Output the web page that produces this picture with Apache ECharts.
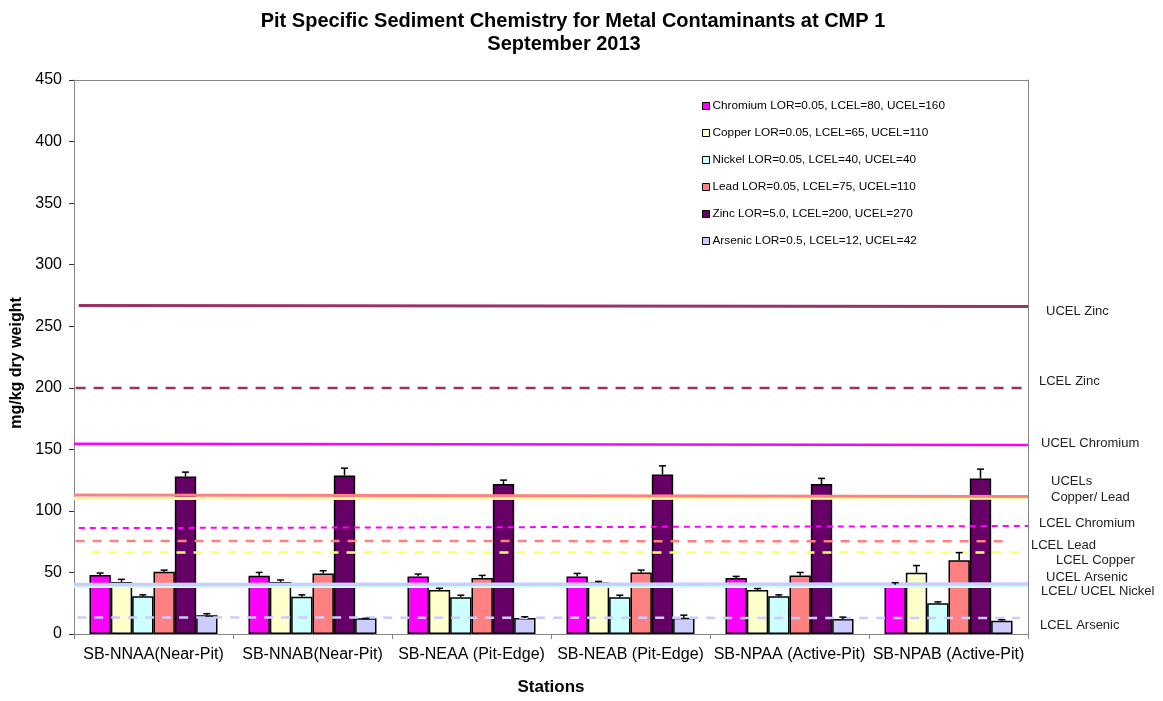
<!DOCTYPE html>
<html>
<head>
<meta charset="utf-8">
<script src="https://cdn.jsdelivr.net/npm/echarts@6/dist/echarts.min.js"></script>
<style>
html,body{margin:0;padding:0;background:#fff;}
#chart{width:1163px;height:701px;}
</style>
</head>
<body>
<div id="chart"></div>
<script>
// ---- data ----
var stations = ['SB-NNAA(Near-Pit)', 'SB-NNAB(Near-Pit)', 'SB-NEAA (Pit-Edge)', 'SB-NEAB (Pit-Edge)', 'SB-NPAA (Active-Pit)', 'SB-NPAB (Active-Pit)'];
var metalNames = ['Chromium LOR=0.05, LCEL=80, UCEL=160', 'Copper LOR=0.05, LCEL=65, UCEL=110', 'Nickel LOR=0.05, LCEL=40, UCEL=40', 'Lead LOR=0.05, LCEL=75, UCEL=110', 'Zinc LOR=5.0, LCEL=200, UCEL=270', 'Arsenic LOR=0.5, LCEL=12, UCEL=42'];
var chromium = [47.9, 47.3, 46.8, 46.8, 45.5, 40.0];
var copper   = [42.3, 42.3, 35.8, 41.9, 35.8, 49.8];
var nickel   = [30.6, 30.2, 29.8, 29.8, 30.6, 25.0];
var lead     = [50.6, 49.2, 45.5, 50.0, 47.6, 60.0];
var zinc     = [128.0, 128.8, 121.8, 129.6, 121.8, 126.4];
var arsenic  = [15.3, 12.7, 12.9, 13.2, 12.1, 10.8];
var chromiumErr = [1.6, 2.7, 1.9, 2.4, 1.3, 1.7];
var copperErr   = [2.1, 1.6, 1.3, 0.8, 1.1, 5.8];
var nickelErr   = [1.2, 1.6, 1.7, 1.7, 1.2, 1.1];
var leadErr     = [1.3, 2.2, 2.1, 1.9, 2.4, 6.1];
var zincErr     = [3.5, 5.9, 3.2, 7.0, 4.6, 7.5];
var arsenicErr  = [1.2, 0.0, 1.1, 2.1, 1.6, 0.8];
// threshold guide lines: [xStart, xEnd] (station units 0..6) and [valueStart, valueEnd]
var guideNames = ['LCEL Nickel', 'UCEL Arsenic', 'LCEL Arsenic', 'LCEL Copper', 'LCEL Lead', 'LCEL Chromium', 'UCEL Copper', 'UCEL Lead', 'UCEL Chromium', 'LCEL Zinc', 'UCEL Zinc'];
var guideX = [[0, 6], [0, 6], [0.02, 5.95], [0.11, 5.95], [0.01, 5.86], [0.03, 6], [0, 6], [0, 6], [0, 6], [0.01, 5.96], [0.03, 6]];
var guideY = [[39.0, 39.0], [40.3, 40.6], [13.5, 12.9], [66.1, 66.1], [75.6, 75.3], [86.0, 87.7], [110.0, 110.2], [112.9, 111.6], [154.6, 153.5], [199.8, 199.8], [266.9, 266.1]];
var yTicks = {min: 0, max: 450, interval: 50};
var titleLines = ['Pit Specific Sediment Chemistry for Metal Contaminants at CMP 1', 'September 2013'];
var rightLabels = ['UCEL Zinc', 'LCEL Zinc', 'UCEL Chromium', 'UCELs', 'Copper/ Lead', 'LCEL Chromium', 'LCEL Lead', 'LCEL Copper', 'UCEL Arsenic', 'LCEL/ UCEL Nickel', 'LCEL Arsenic'];

// ---- styles ----
var FONT = '"Liberation Sans", Arial, sans-serif';
var barColors = ['#FF00FF', '#FFFFCC', '#CCFFFF', '#FF8080', '#660066', '#CCCCFF'];
var guideStyles = [
  {color: '#CCFFFF', width: 4, type: 'solid'},
  {color: '#CCCCFF', width: 3.5, type: 'solid'},
  {color: '#CCCCFF', width: 2.5, type: [9, 8]},
  {color: '#FFFF66', width: 2.5, type: [9, 8]},
  {color: '#FF8080', width: 2.5, type: [9, 8]},
  {color: '#FF00FF', width: 2, type: [6, 5]},
  {color: '#FFFF99', width: 3, type: 'solid'},
  {color: '#FF8080', width: 3, type: 'solid'},
  {color: '#FF00FF', width: 2.5, type: 'solid'},
  {color: '#993366', width: 2.5, type: [10, 8]},
  {color: '#993366', width: 3, type: 'solid'}
];
var labelPos = [[1046, 313], [1039, 383], [1041, 445], [1051, 483], [1051, 499], [1039, 525], [1031, 547], [1056, 562], [1046, 579], [1041, 593], [1040, 627]];

var values = [chromium, copper, nickel, lead, zinc, arsenic];
var errs = [chromiumErr, copperErr, nickelErr, leadErr, zincErr, arsenicErr];
var CAT_GAP = 0.195;

var series = [];
values.forEach(function (vals, k) {
  series.push({
    name: metalNames[k], type: 'bar', xAxisIndex: 0, yAxisIndex: 0,
    data: vals, barGap: '0%', barCategoryGap: (CAT_GAP * 100) + '%',
    itemStyle: {color: barColors[k], borderColor: '#000', borderWidth: 1.5},
    z: 2, silent: true
  });
});
values.forEach(function (vals, k) {
  series.push({
    name: 'err' + k, type: 'custom', xAxisIndex: 0, yAxisIndex: 0, z: 6, silent: true,
    data: vals.map(function (v, i) { return [i, v, errs[k][i]]; }),
    renderItem: function (params, api) {
      var i = api.value(0), v = api.value(1), e = api.value(2);
      var base = api.coord([i, v]);
      var top = api.coord([i, v + e]);
      var band = api.size([1, 0])[0];
      var bw = band * (1 - CAT_GAP) / 6;
      var cx = base[0] + (k - 2.5) * bw;
      var st = {stroke: '#000', lineWidth: 1.5};
      return {type: 'group', children: [
        {type: 'line', shape: {x1: cx, y1: base[1], x2: cx, y2: top[1]}, style: st},
        {type: 'line', shape: {x1: cx - 3.5, y1: top[1], x2: cx + 3.5, y2: top[1]}, style: st}
      ]};
    }
  });
});
guideNames.forEach(function (nm, j) {
  series.push({
    name: nm, type: 'line', xAxisIndex: 1, yAxisIndex: 0, symbol: 'none', silent: true, z: 5,
    data: [[guideX[j][0], guideY[j][0]], [guideX[j][1], guideY[j][1]]],
    lineStyle: guideStyles[j]
  });
});

var graphics = rightLabels.map(function (t, j) {
  return {type: 'text', left: labelPos[j][0], top: labelPos[j][1] - 8,
    style: {text: t, font: '13px ' + FONT, fill: '#222'}};
});

var titleStyle = {fontFamily: FONT, fontSize: 20, fontWeight: 'bold', color: '#000', lineHeight: 24};

var chart = echarts.init(document.getElementById('chart'));
chart.setOption({
  backgroundColor: '#fff',
  animation: false,
  title: [
    {text: titleLines[0], left: 573, textAlign: 'center', top: 9, padding: 0, textStyle: titleStyle},
    {text: titleLines[1], left: 564, textAlign: 'center', top: 32, padding: 0, textStyle: titleStyle}
  ],
  legend: {
    data: metalNames, orient: 'vertical', left: 697, top: 94,
    itemWidth: 7, itemHeight: 7, itemGap: 13, icon: 'rect',
    itemStyle: {borderColor: '#000', borderWidth: 1},
    textStyle: {fontFamily: FONT, fontSize: 11.8, color: '#000', lineHeight: 14, padding: [0, 0, 0, -2]},
    selectedMode: false
  },
  grid: {left: 74, right: 135, top: 80, bottom: 61, containLabel: false},
  xAxis: [
    {type: 'category', data: stations, position: 'bottom',
     axisLine: {lineStyle: {color: '#868686', width: 1}},
     axisTick: {show: true, alignWithLabel: false, length: 5, lineStyle: {color: '#868686'}},
     axisLabel: {fontFamily: FONT, fontSize: 16, color: '#000', margin: 13, interval: 0},
     name: 'Stations', nameLocation: 'middle', nameGap: 45,
     nameTextStyle: {fontFamily: FONT, fontSize: 17, fontWeight: 'bold', color: '#000'},
     splitLine: {show: false}},
    {type: 'value', min: 0, max: 6, position: 'top',
     axisLine: {show: true, onZero: false, lineStyle: {color: '#868686', width: 1}},
     axisTick: {show: false}, axisLabel: {show: false}, splitLine: {show: false}}
  ],
  yAxis: [
    {type: 'value', min: yTicks.min, max: yTicks.max, interval: yTicks.interval,
     axisLine: {show: true, lineStyle: {color: '#868686', width: 1}},
     axisTick: {show: true, length: 5, lineStyle: {color: '#333'}},
     axisLabel: {fontFamily: FONT, fontSize: 16, color: '#000', margin: 12},
     splitLine: {show: false},
     name: 'mg/kg dry weight', nameLocation: 'middle', nameGap: 48, nameRotate: 90,
     nameTextStyle: {fontFamily: FONT, fontSize: 16, fontWeight: 'bold', color: '#000', padding: [0, 12, 0, 0]}},
    {type: 'value', min: yTicks.min, max: yTicks.max, interval: yTicks.interval, position: 'right',
     axisLine: {show: true, onZero: false, lineStyle: {color: '#868686', width: 1}},
     axisTick: {show: false}, axisLabel: {show: false}, splitLine: {show: false}}
  ],
  graphic: graphics,
  series: series
});
</script>
</body>
</html>
